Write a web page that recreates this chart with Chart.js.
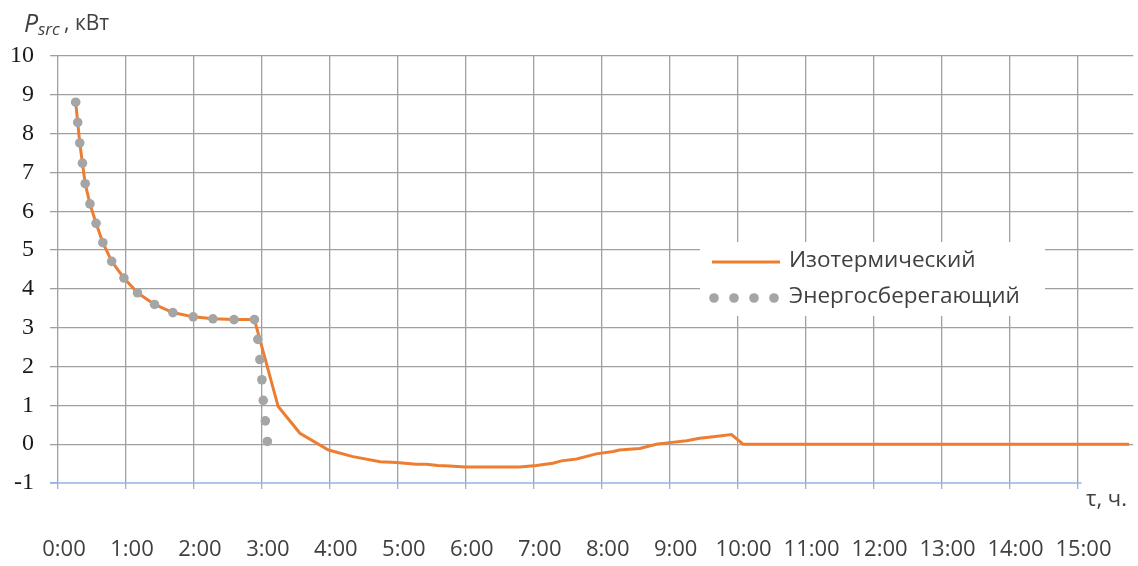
<!DOCTYPE html>
<html>
<head>
<meta charset="utf-8">
<script src="https://cdn.jsdelivr.net/npm/chart.js@4/dist/chart.umd.min.js"></script>
<style>
  html, body { margin: 0; padding: 0; background: #fff; }
  #wrap { width: 1138px; height: 566px; }
</style>
</head>
<body>
<div id="wrap"><canvas id="js--chart" width="1138" height="566"></canvas></div>
<script>
// time in hours, power in kW
const isoTime = [0.26, 0.29, 0.32, 0.36, 0.40, 0.47, 0.56, 0.66, 0.79, 0.97, 1.17, 1.42, 1.69, 1.99, 2.28, 2.59, 2.89,
    3.24, 3.56, 3.98, 4.34, 4.74, 4.98, 5.27, 5.42, 5.59, 5.76, 5.99, 6.79, 7.04, 7.28, 7.41, 7.63, 7.92, 8.17, 8.26,
    8.56, 8.80, 9.00, 9.25, 9.44, 9.64, 9.91, 10.08, 15.76];
const isoPower = [8.81, 8.29, 7.76, 7.24, 6.71, 6.19, 5.69, 5.19, 4.71, 4.28, 3.90, 3.60, 3.39, 3.28, 3.23, 3.21, 3.21,
    0.97, 0.28, -0.15, -0.32, -0.45, -0.47, -0.52, -0.52, -0.55, -0.56, -0.59, -0.59, -0.55, -0.49, -0.43, -0.38, -0.25, -0.19, -0.15,
    -0.11, 0.0, 0.04, 0.09, 0.15, 0.19, 0.25, 0.0, 0.0];

const saveTime = [0.26, 0.29, 0.32, 0.36, 0.40, 0.47, 0.56, 0.66, 0.79, 0.97, 1.17, 1.42, 1.69, 1.99, 2.28, 2.59, 2.89,
    2.94, 2.97, 3.00, 3.02, 3.05, 3.08];
const savePower = [8.81, 8.29, 7.76, 7.24, 6.71, 6.19, 5.69, 5.19, 4.71, 4.28, 3.90, 3.60, 3.39, 3.28, 3.23, 3.21, 3.21,
    2.70, 2.18, 1.66, 1.13, 0.60, 0.07];

const seriesNames = ["Изотермический", "Энергосберегающий"];
const hourTicks = [0, 1, 2, 3, 4, 5, 6, 7, 8, 9, 10, 11, 12, 13, 14, 15];
const yTicks = [-1, 0, 1, 2, 3, 4, 5, 6, 7, 8, 9, 10];

const orange = "#ED7D31";
const grey = "#A5A5A5";
const gridColor = "#a0a0a0";
const axisBlue = "#8fb4e3";
const font = "'Open Sans', sans-serif";

const toPoints = (xs, ys) => xs.map((x, i) => ({ x: x, y: ys[i] }));

const hourLabel = (v) => Math.round(v) + ":00";

// axis line, legend and text labels
const extras = {
    id: "extras",
    afterDraw(chart) {
        const ctx = chart.ctx;
        const x = chart.scales.x;
        const area = chart.chartArea;
        ctx.save();

        // blue bottom axis up to 15:00
        ctx.strokeStyle = axisBlue;
        ctx.lineWidth = 1.5;
        ctx.beginPath();
        ctx.moveTo(x.getPixelForValue(0) - 8, area.bottom);
        ctx.lineTo(x.getPixelForValue(15) + 4, area.bottom);
        ctx.stroke();

        // legend box
        ctx.fillStyle = "#fff";
        ctx.fillRect(700, 242, 345, 74);
        ctx.strokeStyle = orange;
        ctx.lineWidth = 3;
        ctx.beginPath();
        ctx.moveTo(712, 262);
        ctx.lineTo(780, 262);
        ctx.stroke();
        ctx.fillStyle = grey;
        [714, 734, 754, 774].forEach(px => {
            ctx.beginPath();
            ctx.arc(px, 298, 4.8, 0, Math.PI * 2);
            ctx.fill();
        });
        ctx.fillStyle = "#404040";
        ctx.font = "22.5px " + font;
        ctx.textBaseline = "middle";
        ctx.fillText(seriesNames[0], 789, 261);
        ctx.fillText(seriesNames[1], 789, 297);

        // axis titles
        ctx.textBaseline = "alphabetic";
        ctx.font = "italic 25px " + font;
        ctx.fillText("P", 24, 32);
        ctx.font = "italic 17px " + font;
        ctx.fillText("src", 38, 35);
        ctx.font = "21px " + font;
        ctx.fillText(", кВт", 64, 30);
        ctx.font = "22px " + font;
        ctx.fillText("τ, ч.", 1086, 506);
        ctx.restore();
    }
};

const config = {
    type: "scatter",
    data: {
        datasets: [{
            label: seriesNames[0],
            data: toPoints(isoTime, isoPower),
            showLine: true,
            borderColor: orange,
            borderWidth: 3,
            pointRadius: 0,
            tension: 0,
            order: 2
        }, {
            label: seriesNames[1],
            data: toPoints(saveTime, savePower),
            showLine: false,
            backgroundColor: grey,
            borderColor: grey,
            pointRadius: 4.8,
            pointBorderWidth: 0,
            order: 1
        }]
    },
    options: {
        responsive: false,
        animation: false,
        layout: { padding: { top: 56, right: 3, left: 0, bottom: 0 } },
        plugins: {
            legend: { display: false },
            tooltip: { enabled: false }
        },
        scales: {
            x: {
                type: "linear",
                min: 0,
                max: 15.82,
                afterBuildTicks: (scale) => {
                    scale.ticks = hourTicks.map(v => ({ value: v }));
                },
                afterFit: (scale) => {
                    scale.height = 83;
                    scale.paddingLeft = 0;
                    scale.paddingRight = 0;
                },
                ticks: {
                    padding: 48,
                    labelOffset: 6,
                    maxRotation: 0,
                    autoSkip: false,
                    color: "#404040",
                    font: { family: font, size: 22 },
                    callback: hourLabel
                },
                grid: {
                    color: gridColor,
                    lineWidth: 1.3,
                    tickColor: axisBlue,
                    tickLength: 6
                },
                border: { display: false }
            },
            y: {
                min: -1,
                max: 10,
                afterBuildTicks: (scale) => {
                    scale.ticks = yTicks.map(v => ({ value: v }));
                },
                afterFit: (scale) => { scale.width = 58; },
                ticks: {
                    padding: 16,
                    color: "#1a1a1a",
                    font: { family: "'Liberation Serif', serif", size: 24 }
                },
                grid: {
                    color: (c) => c.tick && c.tick.value === -1 ? "rgba(0,0,0,0)" : gridColor,
                    lineWidth: 1.3,
                    tickColor: (c) => c.tick && c.tick.value === -1 ? axisBlue : gridColor,
                    tickLength: 8
                },
                border: { display: false }
            }
        }
    },
    plugins: [extras]
};

const powerChart = new Chart(document.getElementById("js--chart"), config);
</script>
</body>
</html>
